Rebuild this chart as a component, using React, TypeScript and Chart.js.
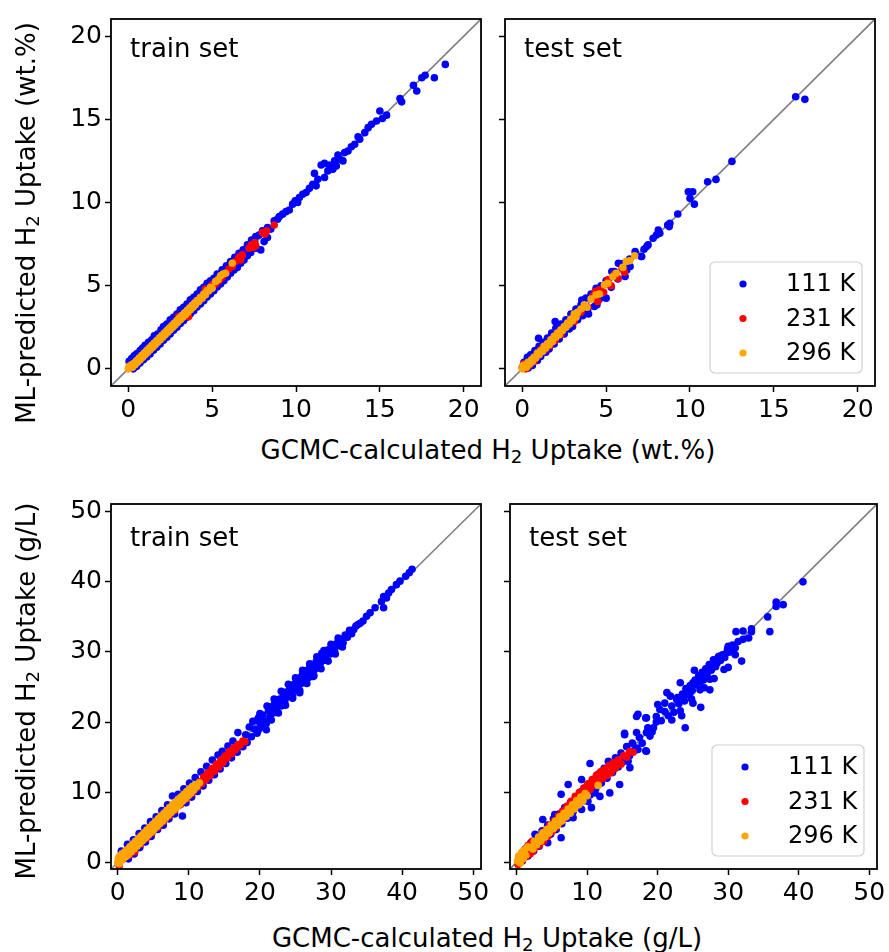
import React, { useEffect, useRef } from 'react';
import { Chart, registerables } from 'chart.js';

Chart.register(...registerables);

const FONT = '"DejaVu Sans", sans-serif';

// ---------- labels / ticks ----------
const tempLabels = ['111 K', '231 K', '296 K'];
const tempColors = ['#0000ff', '#ff0000', '#ffa500'];
const setLabels = ['train set', 'test set'];
const wtTicks = [0, 5, 10, 15, 20];
const glTicks = [0, 10, 20, 30, 40, 50];
const wtRange = [-1.03, 21.03];
const glRange = [-0.95, 51.1];

// ---------- data: flat [x, y, x, y, ...] (GCMC, ML) ----------
// wt.% train
const trainWt111 = [
  0.05,0.45, 0.2,0.62, 0.35,0.78, 0.5,0.9, 0.7,1.1, 0.85,1.25, 1.0,1.42, 1.2,1.6, 1.4,1.75, 1.55,1.98,
  1.75,2.1, 1.95,2.35, 2.1,2.55, 2.3,2.7, 2.5,2.95, 2.7,3.1, 2.9,3.3, 3.1,3.55, 3.3,3.7, 3.5,3.9,
  3.7,4.15, 3.9,4.3, 4.1,4.5, 4.3,4.75, 4.5,4.9, 4.7,5.15, 4.9,5.3, 5.1,5.45, 5.3,5.7, 5.6,5.95,
  5.85,6.2, 6.1,6.45, 6.35,6.7, 6.6,6.95, 6.85,7.15, 7.1,7.45, 7.35,7.75, 7.6,7.95,
  0.3,0.0, 0.5,0.15, 0.7,0.35, 0.9,0.55, 1.1,0.72, 1.3,0.9, 1.5,1.12, 1.7,1.3, 1.9,1.5, 2.1,1.72,
  2.3,1.9, 2.5,2.1, 2.7,2.32, 2.9,2.5, 3.1,2.72, 3.3,2.9, 3.5,3.1, 3.7,3.32, 3.9,3.5, 4.1,3.72,
  4.3,3.9, 4.5,4.1, 4.7,4.32, 4.9,4.5, 5.1,4.7, 5.3,4.92, 5.5,5.1, 5.7,5.3, 5.9,5.52, 6.1,5.75,
  6.3,5.95, 6.5,6.1, 6.7,6.35, 6.9,6.55, 7.1,6.8, 7.3,7.0, 7.6,7.25, 7.9,7.15, 8.1,7.65, 8.3,7.9,
  7.8,8.05, 8.0,8.3, 8.3,8.5, 8.5,8.4, 8.7,8.9, 8.9,9.0, 9.0,9.15, 9.2,9.3, 9.4,9.45, 9.6,9.55,
  9.8,9.9, 9.95,10.1, 10.1,10.0, 10.2,10.3, 10.4,10.5, 10.6,10.6, 10.8,10.85, 11.0,11.1, 11.1,11.75, 11.2,11.0,
  11.3,11.4, 11.5,12.25, 11.7,12.35, 11.7,11.5, 11.9,11.9, 12.0,12.25, 12.2,12.0, 12.3,12.5, 12.4,12.2, 12.5,12.85,
  12.6,12.6, 12.8,12.5, 12.9,13.0, 13.1,13.1, 13.3,13.35, 13.5,13.5, 13.7,13.95, 13.8,13.8, 14.1,14.2, 14.3,14.5,
  14.5,14.7, 14.8,14.9, 15.0,15.5, 15.15,15.05, 15.4,15.25, 16.2,16.25, 16.3,16.05, 17.0,17.05, 17.2,16.7, 17.5,17.5,
  17.7,17.65, 18.25,17.5, 18.9,18.3,
];
const trainWt231 = [
  0.1,0.05, 0.3,0.2, 0.5,0.42, 0.7,0.55, 0.9,0.8, 1.1,0.95, 1.3,1.2, 1.5,1.35, 1.7,1.6, 1.9,1.75,
  2.1,2.0, 2.3,2.15, 2.5,2.4, 2.7,2.55, 2.9,2.8, 3.0,3.15, 3.1,2.95, 3.3,3.2, 3.5,3.3, 3.6,3.15,
  3.7,3.6, 3.9,3.75, 4.1,4.0, 4.3,4.2, 4.5,4.4, 4.6,4.8, 4.7,4.6, 4.9,4.85, 5.0,5.05, 5.2,5.1,
  5.4,5.3, 5.6,5.5, 5.8,5.75, 6.0,6.0, 6.2,6.15, 6.4,6.45, 6.6,6.7, 6.7,6.55, 6.8,6.85, 7.2,7.25,
  7.35,7.45, 7.45,7.3, 7.55,7.6, 7.6,7.4, 8.0,8.2, 8.15,8.1, 8.25,8.3, 8.7,8.65,
];
const trainWt296 = [
  0.0,0.0, 0.05,0.15, 0.1,0.05, 0.2,0.25, 0.25,0.1, 0.35,0.35, 0.4,0.25, 0.5,0.5, 0.55,0.4, 0.65,0.65,
  0.7,0.55, 0.8,0.8, 0.85,0.7, 0.95,0.95, 1.0,0.85, 1.1,1.1, 1.15,1.0, 1.25,1.25, 1.3,1.15, 1.4,1.4,
  1.45,1.3, 1.55,1.55, 1.6,1.45, 1.7,1.7, 1.75,1.6, 1.85,1.85, 1.9,1.75, 2.0,2.0, 2.05,1.9, 2.15,2.15,
  2.2,2.05, 2.3,2.3, 2.35,2.2, 2.45,2.45, 2.5,2.35, 2.6,2.6, 2.65,2.5, 2.75,2.75, 2.8,2.65, 2.9,2.9,
  2.95,2.8, 3.05,3.05, 3.1,2.95, 3.2,3.2, 3.25,3.1, 3.35,3.35, 3.4,3.25, 3.5,3.5, 3.55,3.4, 3.65,3.65,
  3.7,3.55, 3.8,3.8, 3.85,3.7, 3.95,3.95, 4.0,3.85, 4.1,4.1, 4.2,4.05, 4.3,4.3, 4.4,4.25, 4.5,4.5,
  4.6,4.45, 4.7,4.7, 4.8,4.7, 4.9,4.9, 5.0,4.85, 5.2,5.25, 5.35,5.35, 5.5,5.6, 5.65,5.7, 5.8,5.75,
  6.2,6.35,
];
// wt.% test
const testWt111 = [
  0.1,0.4, 0.3,0.7, 0.35,0.05, 0.5,0.85, 0.6,0.2, 0.75,1.1, 0.9,0.5, 1.0,1.35, 1.1,0.75, 1.25,1.6,
  1.4,1.0, 1.5,1.85, 1.6,1.2, 1.75,2.15, 1.9,1.5, 2.0,2.45, 2.2,1.8, 2.3,2.7, 2.5,2.1, 2.6,2.95,
  2.8,2.4, 2.9,3.3, 3.0,2.55, 3.2,3.6, 3.3,2.95, 3.5,3.85, 3.6,3.2, 3.8,4.25, 3.9,3.55, 4.1,4.5,
  4.3,3.75, 4.45,3.85, 4.4,4.85, 4.6,4.2, 4.7,5.0, 5.0,4.25, 5.0,5.3, 5.3,4.9, 5.5,5.85, 5.7,5.4,
  6.0,6.3, 6.05,6.35, 6.13,5.55, 6.23,5.95, 6.4,6.6, 6.73,7.05, 7.08,6.75, 7.26,7.19, 7.42,7.35, 7.8,7.85,
  8.0,8.05, 8.11,8.35, 8.2,8.15, 8.67,8.65, 8.76,8.55, 8.8,8.75, 9.27,9.31, 9.9,10.65, 10.0,10.25, 10.16,10.65,
  10.26,9.9, 11.05,11.25, 11.55,11.39, 12.5,12.47, 16.3,16.36, 16.85,16.2,
  1.96,2.84, 0.97,1.84, 1.07,1.24, 3.55,4.14, 5.34,5.85, 5.73,6.35, 6.43,6.15, 3.95,3.3, 7.12,6.75, 7.5,7.45,
];
const testWt231 = [
  0.0,0.1, 0.1,0.3, 0.2,0.0, 0.3,0.35, 0.4,0.2, 0.55,0.5, 0.7,0.45, 0.8,0.75, 0.95,0.85, 1.1,1.0,
  1.2,1.25, 1.35,1.15, 1.5,1.5, 1.65,1.4, 1.8,1.8, 1.95,1.7, 2.1,2.15, 2.3,2.05, 2.5,2.45, 2.7,2.6,
  2.9,2.95, 3.1,2.85, 3.3,3.3, 3.5,3.4, 3.7,3.75, 3.9,3.7, 4.2,4.35, 4.35,4.65, 4.4,4.15, 4.5,4.05,
  4.6,4.75, 4.85,4.6, 5.1,5.35, 5.3,5.0, 5.5,5.7, 5.7,5.45, 5.95,6.05, 6.1,5.8,
];
const testWt296 = [
  0.0,0.0, 0.05,0.2, 0.1,0.1, 0.2,0.25, 0.25,0.1, 0.35,0.4, 0.45,0.3, 0.55,0.55, 0.6,0.45, 0.7,0.7,
  0.8,0.65, 0.9,0.95, 1.0,0.85, 1.1,1.1, 1.2,1.05, 1.3,1.35, 1.4,1.25, 1.5,1.5, 1.6,1.45, 1.7,1.75,
  1.8,1.65, 1.9,1.95, 2.0,1.9, 2.1,2.15, 2.2,2.05, 2.3,2.35, 2.4,2.3, 2.5,2.55, 2.6,2.5, 2.7,2.75,
  2.8,2.7, 2.9,3.0, 3.0,2.9, 3.1,3.3, 3.2,3.1, 3.25,3.35, 3.3,3.4, 3.5,3.6, 3.7,3.85, 3.85,3.7,
  4.1,4.2, 4.4,4.45, 4.6,4.5, 4.9,5.05, 5.1,5.15, 5.4,5.55, 5.6,5.75, 6.0,6.1, 6.2,6.45, 6.4,6.5,
  6.7,6.8,
];
// g/L train
const trainGl111 = [
  0.5,1.6, 1.36,2.56, 2.2,3.2, 3.0,4.1, 3.8,4.9, 4.6,5.8, 5.4,6.5, 6.2,7.4, 7.0,8.2, 7.7,9.45,
  8.5,9.7, 9.3,10.5, 10.1,11.3, 10.9,12.1, 11.7,12.9, 12.5,13.7, 13.3,14.6, 14.1,15.3, 14.7,15.85, 15.5,16.6,
  16.2,17.3, 16.9,18.5,
  1.5,0.5, 2.3,1.2, 3.1,2.1, 3.9,2.9, 4.7,3.7, 5.6,4.7, 6.4,5.3, 7.2,6.2, 8.0,6.9, 9.1,6.6,
  9.6,8.5, 10.4,9.3, 11.2,10.1, 12.0,10.9, 12.8,11.7, 13.6,12.5, 14.4,13.3, 15.2,14.1, 16.0,14.9, 16.8,15.7,
  17.6,16.5, 18.2,17.1,
  18.0,18.2, 18.5,19.3, 18.8,17.9, 19.2,19.0, 19.5,20.2, 19.8,18.9, 19.8,20.6, 20.1,19.7, 20.4,21.0, 20.6,20.1,
  20.9,19.8, 20.9,18.9, 21.2,21.6, 21.4,20.7, 21.7,22.2, 21.9,21.3, 22.1,22.8, 22.3,21.8, 22.6,22.6, 22.8,23.3,
  23.0,22.3, 23.3,23.9, 23.5,23.0, 23.7,24.3, 23.9,23.6, 24.2,24.9, 24.4,24.0, 24.6,23.8, 24.8,25.4, 25.0,24.7,
  25.2,25.9, 25.4,25.1, 25.6,24.2, 25.6,26.3, 25.8,25.5, 26.0,26.9, 26.2,25.8, 26.4,26.7, 26.5,27.3, 26.7,26.2,
  26.9,27.6, 27.1,27.0, 27.3,26.5, 27.5,26.5, 27.5,28.1, 27.7,27.5, 27.9,28.6, 28.1,27.8, 28.3,29.2, 28.5,28.4,
  28.7,29.8, 28.9,28.8, 29.1,29.4, 29.3,28.9, 29.6,30.3, 29.9,29.7, 30.2,30.6, 30.5,30.1, 30.8,31.2, 31.1,30.9,
  31.4,31.8, 31.7,31.3, 32.0,32.4, 32.3,32.1, 32.6,33.1, 32.9,32.6, 33.2,33.2, 33.5,33.7, 33.8,33.9, 34.1,34.1,
  34.5,34.4, 35.0,35.1, 35.5,35.6, 36.2,36.3, 37.1,37.2, 37.4,37.9, 37.4,36.3, 37.8,37.7, 38.1,38.4, 38.5,38.9,
  39.2,39.6, 39.7,40.1, 40.5,40.8, 41.0,41.3, 41.4,41.8,
  19.0,20.1, 20.0,21.2, 21.0,22.3, 22.0,23.3, 23.0,24.4, 24.0,25.4, 25.0,26.3, 26.0,27.4, 27.0,28.3, 28.0,29.3,
  29.0,30.2, 30.0,31.1, 31.0,32.0, 19.6,18.4, 20.6,19.3, 21.6,20.3, 22.6,21.3, 23.6,22.4, 24.6,23.4, 25.6,24.5,
  26.6,25.5, 27.6,26.6, 28.6,27.6, 29.6,28.7, 30.6,29.7, 31.6,30.7,
];
const trainGl231 = [
  0.2,-0.5, 0.4,0.3, 0.8,0.5, 1.2,1.3, 1.6,1.0, 1.8,1.85, 2.0,2.1, 2.4,1.5, 2.8,2.9, 3.2,2.6, 3.6,3.7,
  4.0,3.4, 4.4,4.5, 4.8,4.2, 5.2,5.3, 5.6,5.0, 6.0,6.1, 6.4,5.8, 6.8,6.9, 7.2,6.6, 7.6,7.7,
  8.0,7.4, 8.4,8.5, 8.8,8.2, 9.2,9.3, 9.6,9.0, 10.0,10.1, 10.4,9.8, 10.8,10.9, 11.2,10.7, 11.5,11.5,
  11.8,11.2, 12.1,12.2, 12.4,11.8, 12.7,12.8, 13.0,12.4, 13.3,13.4, 13.6,13.0, 13.9,14.0, 14.2,13.6, 14.5,14.6,
  14.8,14.2, 15.1,15.2, 15.4,14.9, 15.7,15.8, 16.0,15.5, 16.3,16.3, 16.6,16.1, 16.9,16.8, 17.2,16.7, 17.6,17.3,
  17.9,17.2,
];
const trainGl296 = [
  0.0,0.0, 0.1,0.6, 0.2,-0.2, 0.3,0.9, 0.5,0.3, 0.6,1.2, 0.8,0.6, 1.0,1.5, 1.1,0.8, 1.3,1.8,
  1.5,1.1, 1.7,2.2, 1.9,1.5, 2.1,2.6, 2.3,1.9, 2.5,3.0, 2.7,2.3, 2.9,3.4, 3.1,2.7, 3.3,3.8,
  3.5,3.1, 3.7,4.2, 3.9,3.5, 4.1,4.6, 4.3,3.9, 4.5,5.0, 4.7,4.3, 4.9,5.4, 5.1,4.7, 5.3,5.8,
  5.5,5.1, 5.7,6.2, 5.9,5.5, 6.1,6.6, 6.3,5.9, 6.5,7.0, 6.7,6.3, 6.9,7.4, 7.1,6.7, 7.3,7.8,
  7.5,7.1, 7.7,8.2, 7.9,7.5, 8.1,8.6, 8.3,7.9, 8.5,9.0, 8.7,8.3, 8.9,9.3, 9.1,8.7, 9.3,9.7,
  9.5,9.1, 9.7,10.1, 9.9,9.5, 10.1,10.5, 10.3,9.9, 10.5,10.8, 10.7,10.3, 10.9,11.1, 11.1,10.8, 11.5,11.35,
];
// g/L test
const testGl111 = [
  0.3,0.8, 0.8,0.2, 1.2,1.9, 1.6,0.9, 2.0,2.8, 2.4,1.6, 2.8,3.6, 3.2,2.3, 3.6,4.5, 4.0,3.1,
  4.4,5.3, 4.8,4.0, 5.2,6.2, 5.6,4.7, 6.0,6.9, 6.4,5.5, 6.8,7.8, 7.2,6.3, 7.6,8.5, 8.0,7.2,
  8.4,9.3, 8.8,8.0, 9.2,10.1, 9.6,8.8, 10.0,11.0, 10.4,9.6, 10.8,11.8, 11.2,10.5, 11.6,12.6, 12.0,11.3,
  12.4,13.4, 12.8,12.0, 13.2,14.1, 13.6,12.8, 14.0,14.9, 14.4,13.6, 14.8,15.6, 15.2,14.4, 15.6,16.5, 16.0,15.2,
  16.4,17.0, 16.8,16.0, 17.4,17.8, 17.8,17.0, 18.6,19.2, 19.2,18.6, 19.8,20.0,
  21.3,24.2, 18.4,20.6, 17.2,21.1, 15.3,18.4, 17.0,18.5, 18.4,15.85, 17.2,16.1, 10.4,14.1, 13.0,14.4, 7.3,11.1,
  9.2,11.8, 6.3,9.7, 11.8,9.4, 13.2,9.9, 14.6,11.1, 10.6,7.8, 9.2,7.55, 3.7,6.1, 4.9,5.2, 6.3,3.5,
  4.4,2.8, 2.6,4.0, 5.4,6.8, 8.0,6.35, 10.1,8.7, 11.1,9.9, 15.8,14.4, 16.05,13.5,
  40.6,40.0, 36.8,37.1, 36.8,36.5, 37.8,36.75, 35.6,35.0, 35.9,32.9, 31.1,32.9, 32.1,33.0, 33.3,33.3, 33.3,32.9,
  32.9,32.0, 32.1,31.8, 31.9,28.7, 30.0,30.8, 30.7,30.3, 29.8,29.9, 31.0,29.6, 28.8,29.4, 27.9,28.9, 28.4,28.4,
  30.0,27.8, 27.4,27.7, 26.9,27.0, 26.2,26.5, 27.4,26.1, 26.0,24.6, 27.4,24.6, 25.0,25.6, 24.1,24.6, 23.2,25.6,
  24.6,24.2, 23.6,23.7, 22.7,23.2, 25.0,22.7, 26.1,22.1, 23.9,19.2, 22.0,20.3, 23.4,20.9, 21.0,22.7, 20.3,21.8,
  19.8,20.8, 17.0,20.8, 18.3,20.6, 15.3,18.2, 19.4,19.2, 18.9,18.0, 18.4,18.5, 18.3,15.9, 17.0,16.3,
  20.5,20.2, 21.0,21.5, 21.5,20.9, 22.0,22.3, 22.3,21.4, 22.8,23.5, 23.0,22.6, 23.5,24.0, 23.8,23.0, 24.0,24.8,
  24.3,23.9, 24.6,25.2, 24.9,24.5, 25.3,26.0, 25.5,25.3, 25.8,26.6, 26.0,25.7, 26.3,27.1, 26.5,26.0, 26.8,27.6,
  27.0,26.8, 27.3,28.2, 27.6,27.4, 28.0,28.6, 28.2,27.9, 28.6,29.3, 28.9,28.8, 29.2,29.6, 29.5,29.2, 29.9,30.4,
  30.3,30.0, 30.6,31.0, 31.0,30.6, 31.4,31.5, 23.2,21.6, 24.8,23.3, 26.6,24.9, 28.0,26.2, 29.4,27.5, 21.8,23.7,
  20.0,22.5, 25.2,27.4,
];
const testGl231 = [
  0.2,-0.3, 0.4,0.9, 0.7,0.2, 1.0,1.6, 1.3,0.8, 1.6,2.4, 1.9,1.2, 2.2,3.0, 2.3,1.6, 2.6,2.2,
  2.9,3.1, 3.2,2.4, 3.5,3.8, 3.8,3.0, 4.1,4.6, 4.4,3.7, 4.7,5.3, 5.0,4.4, 5.3,5.9, 5.6,5.0,
  5.9,6.6, 6.2,5.7, 6.5,7.3, 6.8,6.4, 7.1,8.0, 7.4,7.1, 7.7,8.7, 8.0,7.8, 8.3,9.4, 8.6,8.5,
  8.9,10.0, 9.2,9.1, 9.5,10.6, 9.8,9.8, 10.1,11.2, 10.4,10.4, 10.7,11.8, 11.0,11.0, 11.3,12.4, 11.6,11.4,
  11.9,12.9, 12.2,12.0, 12.5,13.3, 12.8,12.4, 13.1,13.8, 13.4,12.8, 13.7,14.2, 14.0,13.4, 14.4,14.6, 14.8,14.0,
  15.2,15.2, 15.6,15.0, 16.0,15.8, 16.5,15.7,
];
const testGl296 = [
  0.1,0.2, 0.3,0.9, 0.5,-0.1, 0.7,1.4, 0.9,0.5, 1.1,1.8, 1.3,1.0, 1.6,2.2, 2.0,2.1, 2.3,1.9,
  2.5,3.0, 2.8,2.5, 3.1,3.6, 3.4,3.0, 3.7,4.2, 4.0,3.6, 4.3,4.7, 4.6,4.2, 4.9,5.3, 5.2,4.8,
  5.5,5.9, 5.8,5.3, 6.1,6.5, 6.4,5.9, 6.7,7.0, 7.0,6.5, 7.3,7.6, 7.6,7.0, 7.9,8.2, 8.2,7.6,
  8.5,8.8, 8.8,8.2, 9.1,9.3, 9.4,8.8, 9.7,9.8, 10.0,9.5, 11.55,10.97,
];

function toPoints(flat: number[]) {
  const pts: { x: number; y: number }[] = [];
  for (let i = 0; i + 1 < flat.length; i += 2) pts.push({ x: flat[i], y: flat[i + 1] });
  return pts;
}

type Box = { left: number; top: number; width: number; height: number };
type Area = { left: number; top: number; right: number; bottom: number };

type PanelProps = {
  box: Box;
  area: Area;
  range: number[];
  ticks: number[];
  yLabels: boolean;
  series: number[][];
  label: string;
  labelDy: number;
  legend: boolean;
};

function Panel(p: PanelProps) {
  const ref = useRef<HTMLCanvasElement>(null);
  useEffect(() => {
    if (!ref.current) return;
    const padTop = p.area.top - p.box.top;
    const padRight = p.box.left + p.box.width - p.area.right;
    const yW = p.area.left - p.box.left;
    const xH = p.box.top + p.box.height - p.area.bottom;

    const datasets: any[] = [
      {
        type: 'line',
        label: 'diag',
        data: [{ x: p.range[0], y: p.range[0] }, { x: p.range[1], y: p.range[1] }],
        borderColor: '#808080',
        borderWidth: 1.6,
        pointRadius: 0,
        order: 10,
        clip: 0,
      },
      ...p.series.map((s, i) => ({
        type: 'scatter',
        label: tempLabels[i],
        data: toPoints(s),
        backgroundColor: tempColors[i],
        borderWidth: 0,
        pointRadius: 3.8,
        pointHoverRadius: 3.8,
        order: 3 - i,
        clip: 0,
      })),
    ];

    const axisCommon = (isY: boolean) => ({
      type: 'linear',
      min: p.range[0],
      max: p.range[1],
      afterBuildTicks: (s: any) => {
        s.ticks = p.ticks.map((v) => ({ value: v }));
      },
      afterFit: (s: any) => {
        if (isY) s.width = yW;
        else s.height = xH;
      },
      grid: {
        display: true,
        drawOnChartArea: false,
        drawTicks: true,
        tickLength: 6,
        tickWidth: 1.5,
        tickColor: '#000',
      },
      border: { display: false },
      ticks: {
        color: '#000',
        font: { family: FONT, size: 25 },
        padding: 3,
        maxRotation: 0,
        autoSkip: false,
        callback: (v: any) => (isY && !p.yLabels ? '' : String(v)),
      },
    });

    const overlay = {
      id: 'overlay',
      afterDraw(chart: any) {
        const ctx = chart.ctx;
        const a = chart.chartArea;
        ctx.save();
        ctx.strokeStyle = '#000';
        ctx.lineWidth = 1.8;
        ctx.strokeRect(a.left, a.top, a.right - a.left, a.bottom - a.top);
        ctx.fillStyle = '#000';
        ctx.font = `26px ${FONT}`;
        ctx.textAlign = 'left';
        ctx.textBaseline = 'alphabetic';
        ctx.fillText(p.label, a.left + 19, a.top + p.labelDy);
        if (p.legend) {
          const w = 152, h = 111;
          const lx = a.right - 13 - w;
          const ly = a.bottom - 13 - h;
          ctx.beginPath();
          ctx.roundRect(lx, ly, w, h, 5);
          ctx.fillStyle = 'rgba(255,255,255,0.8)';
          ctx.fill();
          ctx.strokeStyle = '#d0d0d0';
          ctx.lineWidth = 1.2;
          ctx.stroke();
          const rows = [22, 56.5, 91];
          ctx.font = `24px ${FONT}`;
          ctx.textBaseline = 'middle';
          tempLabels.forEach((t, i) => {
            ctx.beginPath();
            ctx.arc(lx + 33, ly + rows[i], 3.6, 0, Math.PI * 2);
            ctx.fillStyle = tempColors[i];
            ctx.fill();
            ctx.fillStyle = '#000';
            ctx.fillText(t, lx + 76, ly + rows[i] + 1);
          });
        }
        ctx.restore();
      },
    };

    const chart = new Chart(ref.current, {
      type: 'scatter',
      data: { datasets },
      options: {
        animation: false,
        responsive: false,
        events: [],
        layout: { padding: { left: 0, top: padTop, right: padRight, bottom: 0 } },
        plugins: { legend: { display: false }, tooltip: { enabled: false }, title: { display: false } },
        scales: { x: axisCommon(false) as any, y: axisCommon(true) as any },
      },
      plugins: [overlay],
    } as any);
    return () => chart.destroy();
  }, []);
  return (
    <canvas
      ref={ref}
      width={p.box.width}
      height={p.box.height}
      style={{ position: 'absolute', left: p.box.left, top: p.box.top, width: p.box.width, height: p.box.height }}
    />
  );
}

const subStyle: React.CSSProperties = { fontSize: '0.7em', verticalAlign: '-0.22em', lineHeight: 0 };
const titleStyle: React.CSSProperties = {
  position: 'absolute',
  fontSize: 26,
  lineHeight: '26px',
  whiteSpace: 'nowrap',
  color: '#000',
  fontFamily: FONT,
};

export default function App() {
  return (
    <div style={{ position: 'absolute', left: 0, top: 0, width: 889, height: 952, background: '#fff', overflow: 'hidden' }}>
      <Panel
        box={{ left: 0, top: 0, width: 495, height: 430 }}
        area={{ left: 111, top: 19, right: 481, bottom: 386 }}
        range={wtRange}
        ticks={wtTicks}
        yLabels={true}
        series={[trainWt111, trainWt231, trainWt296]}
        label={setLabels[0]}
        labelDy={38}
        legend={false}
      />
      <Panel
        box={{ left: 490, top: 0, width: 399, height: 430 }}
        area={{ left: 505, top: 19, right: 875, bottom: 386 }}
        range={wtRange}
        ticks={wtTicks}
        yLabels={false}
        series={[testWt111, testWt231, testWt296]}
        label={setLabels[1]}
        labelDy={38}
        legend={true}
      />
      <Panel
        box={{ left: 0, top: 476, width: 495, height: 430 }}
        area={{ left: 111, top: 504, right: 481, bottom: 869 }}
        range={glRange}
        ticks={glTicks}
        yLabels={true}
        series={[trainGl111, trainGl231, trainGl296]}
        label={setLabels[0]}
        labelDy={42}
        legend={false}
      />
      <Panel
        box={{ left: 495, top: 476, width: 394, height: 430 }}
        area={{ left: 510, top: 504, right: 877, bottom: 869 }}
        range={glRange}
        ticks={glTicks}
        yLabels={false}
        series={[testGl111, testGl231, testGl296]}
        label={setLabels[1]}
        labelDy={42}
        legend={true}
      />
      <div style={{ ...titleStyle, left: 488, top: 437, transform: 'translateX(-50%)' }}>
        GCMC-calculated H<sub style={subStyle}>2</sub> Uptake (wt.%)
      </div>
      <div style={{ ...titleStyle, left: 487, top: 925, transform: 'translateX(-50%)' }}>
        GCMC-calculated H<sub style={subStyle}>2</sub> Uptake (g/L)
      </div>
      <div style={{ ...titleStyle, left: 25.5, top: 223, transform: 'translate(-50%, -50%) rotate(-90deg)' }}>
        ML-predicted H<sub style={subStyle}>2</sub> Uptake (wt.%)
      </div>
      <div style={{ ...titleStyle, left: 25.5, top: 691, transform: 'translate(-50%, -50%) rotate(-90deg)' }}>
        ML-predicted H<sub style={subStyle}>2</sub> Uptake (g/L)
      </div>
    </div>
  );
}
